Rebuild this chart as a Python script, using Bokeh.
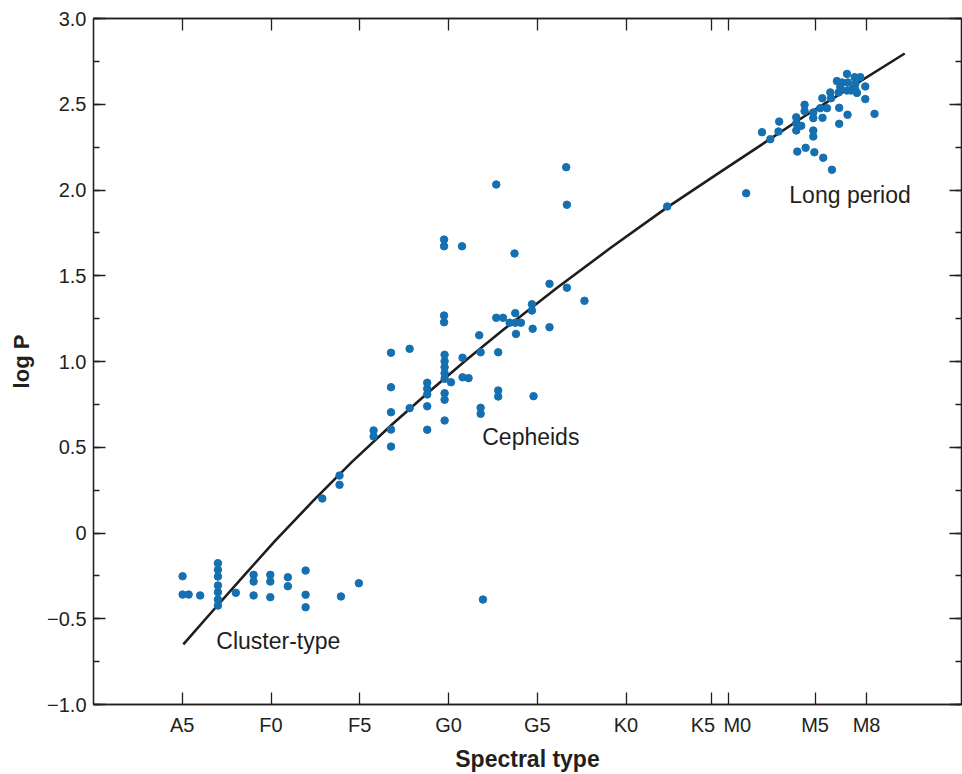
from bokeh.plotting import figure
from bokeh.models import (LinearAxis, FixedTicker, SingleIntervalTicker,
                          CustomJSTickFormatter, Range1d, ColumnDataSource)
from bokeh.core.properties import value
from bokeh.embed import file_html
from bokeh.resources import INLINE

# ---------------- data ----------------
spec_tick_pos = [0, 5, 10, 15, 20, 25, 29.8, 30.8, 35.65, 38.55]
NB = "\u00a0"
spec_tick_labels = ["A5", "F0", "F5", "G0", "G5", "K0",
                    "K5" + NB * 3, NB * 3 + "M0", "M5", "M8"]

cluster_x = [0.02, 0.02, 0.36, 1.01,
             2.01, 2.01, 2.01, 2.01, 2.01, 2.01, 2.01,
             3.02, 4.02, 4.02, 4.02, 4.96, 4.96, 4.96,
             5.95, 5.95, 6.95, 6.95, 6.95, 8.94, 9.95, 16.94]
cluster_y = [-0.252, -0.359, -0.359, -0.364,
             -0.176, -0.215, -0.254, -0.306, -0.345, -0.388, -0.423,
             -0.349, -0.244, -0.283, -0.364, -0.244, -0.283, -0.374,
             -0.258, -0.310, -0.219, -0.360, -0.433, -0.370, -0.293, -0.388]

cepheid_x = [7.89, 8.86, 8.86, 10.78, 10.78,
             11.76, 11.76, 11.76, 11.76, 11.76,
             12.81, 12.81,
             13.80, 13.80, 13.80, 13.80, 13.80,
             14.78, 14.78, 14.78, 14.78, 14.78, 14.78, 14.78, 14.78,
             14.75, 14.75, 14.75, 14.75,
             15.14, 15.79, 16.13, 15.79, 15.76,
             16.81, 16.81, 16.81, 16.73,
             17.69, 17.69, 18.07, 17.80, 17.80, 17.80,
             18.44, 18.76, 19.08, 18.76, 18.80, 18.72,
             19.70, 19.70, 19.74, 19.79,
             20.69, 20.69, 21.67, 21.67, 21.63, 22.66, 27.32]
cepheid_y = [0.201, 0.335, 0.281, 0.598, 0.563,
             0.504, 0.603, 0.704, 0.850, 1.051,
             0.728, 1.074,
             0.602, 0.739, 0.808, 0.841, 0.876,
             0.656, 0.777, 0.815, 0.899, 0.932, 0.967, 1.002, 1.039,
             1.229, 1.268, 1.672, 1.711,
             0.879, 0.908, 0.903, 1.022, 1.672,
             0.695, 0.730, 1.054, 1.153,
             2.032, 1.255, 1.255, 0.796, 0.831, 1.054,
             1.226, 1.226, 1.226, 1.282, 1.161, 1.630,
             1.297, 1.334, 1.191, 0.798,
             1.200, 1.453, 1.430, 1.914, 2.133, 1.354, 1.904]

longp_x = [31.77,
           32.66, 33.13, 33.63, 33.59,
           34.59, 34.59, 34.59, 34.87,
           35.06, 35.06,
           35.55, 35.55, 35.55, 35.55,
           34.65, 35.12, 35.61, 36.11, 36.60,
           35.94, 36.06, 36.32, 36.07,
           36.51, 36.55,
           37.01, 37.01, 37.48,
           36.98, 36.88, 37.17, 37.45, 37.50,
           37.07, 37.45,
           37.88, 38.20, 37.92, 37.92, 38.01, 37.67,
           38.48, 38.48, 39.00]
longp_y = [1.981,
           2.337, 2.296, 2.399, 2.341,
           2.424, 2.389, 2.347, 2.374,
           2.497, 2.460,
           2.452, 2.419, 2.347, 2.312,
           2.224, 2.246, 2.220, 2.188, 2.118,
           2.477, 2.535, 2.477, 2.421,
           2.569, 2.535,
           2.479, 2.386, 2.439,
           2.569, 2.635, 2.627, 2.677, 2.627,
           2.600, 2.580,
           2.658, 2.658, 2.619, 2.584, 2.566, 2.580,
           2.604, 2.530, 2.444]

curve_x = [0.06, 1.76, 3.5, 5.24, 7.4, 9.56, 11.8, 13.97, 16.0, 18.1,
           21.1, 24.1, 27.3, 30.3, 35.2, 40.7]
curve_y = [-0.65, -0.449, -0.246, -0.044, 0.190, 0.415, 0.631, 0.830,
           1.009, 1.186, 1.428, 1.660, 1.897, 2.104, 2.440, 2.796]

label_text = ["Cluster-type", "Cepheids", "Long period"]
label_x = [1.92, 16.9, 34.2]
label_y = [-0.627, 0.557, 1.968]

# ---------------- styling ----------------
FONT = "Liberation Sans"
INK = "#231f20"
DOT = "#1570b1"

p = figure(width=962, height=774,
           x_range=Range1d(-5, 43.9), y_range=Range1d(-1, 3),
           output_backend="svg", toolbar_location=None,
           min_border_left=93, min_border_right=1,
           min_border_top=18, min_border_bottom=70,
           background_fill_color="white", border_fill_color="white")
p.grid.visible = False
p.outline_line_color = INK
p.outline_line_width = 1.3

spec_fmt = CustomJSTickFormatter(
    args=dict(pos=spec_tick_pos, labels=spec_tick_labels),
    code="""
    for (let i = 0; i < pos.length; i++) {
        if (Math.abs(pos[i] - tick) < 1e-6) return labels[i];
    }
    return '';
    """)
y_fmt = CustomJSTickFormatter(code="""
    if (Math.abs(tick) < 1e-9) return '0';
    const s = Math.abs(tick).toFixed(1);
    return tick < 0 ? '\\u2212' + s : s;
""")
blank_fmt = CustomJSTickFormatter(code="return '';")


def style_axis(ax):
    ax.axis_line_color = INK
    ax.axis_line_width = 1.3
    ax.major_tick_line_color = INK
    ax.minor_tick_line_color = INK
    ax.major_tick_line_width = 1.3
    ax.minor_tick_line_width = 1.3
    ax.major_tick_in = 12
    ax.major_tick_out = 0
    ax.minor_tick_in = 6
    ax.minor_tick_out = 0
    ax.major_label_text_font = FONT
    ax.major_label_text_font_size = "20px"
    ax.major_label_text_color = INK
    ax.axis_label_text_font = FONT
    ax.axis_label_text_font_style = "bold"
    ax.axis_label_text_color = INK


# bottom axis
xa = p.xaxis[0]
xa.ticker = FixedTicker(ticks=spec_tick_pos)
xa.formatter = spec_fmt
style_axis(xa)
xa.axis_label = "Spectral type"
xa.axis_label_text_font_size = "23px"
xa.major_label_standoff = 9
xa.axis_label_standoff = 7

# left axis
ya = p.yaxis[0]
ya.ticker = SingleIntervalTicker(interval=0.5, num_minor_ticks=2)
ya.formatter = y_fmt
style_axis(ya)
ya.axis_label = "log P"
ya.axis_label_text_font_size = "22px"
ya.major_label_standoff = 7
ya.axis_label_standoff = 10

# top axis (ticks only)
ta = LinearAxis(ticker=FixedTicker(ticks=spec_tick_pos), formatter=blank_fmt)
style_axis(ta)
ta.major_label_text_font_size = "0px"
ta.major_label_standoff = 0
p.add_layout(ta, "above")

# right axis (ticks only)
ra = LinearAxis(ticker=SingleIntervalTicker(interval=0.5, num_minor_ticks=2),
                formatter=blank_fmt)
style_axis(ra)
ra.major_label_text_font_size = "0px"
ra.major_label_standoff = 0
p.add_layout(ra, "right")

# fitted curve
p.line(curve_x, curve_y, line_color="#1e1e1e", line_width=2.6,
       line_join="round")

# points
all_x = cluster_x + cepheid_x + longp_x
all_y = cluster_y + cepheid_y + longp_y
src = ColumnDataSource(dict(x=all_x, y=all_y))
p.scatter("x", "y", source=src, size=7.5, fill_color=DOT, line_color=DOT)

# labels
lsrc = ColumnDataSource(dict(x=label_x, y=label_y, t=label_text))
p.text("x", "y", text="t", source=lsrc, text_font=value(FONT),
       text_font_size=value("23px"), text_color=INK,
       text_align="left", text_baseline="middle")

open("out.html", "w").write(file_html(p, INLINE))
